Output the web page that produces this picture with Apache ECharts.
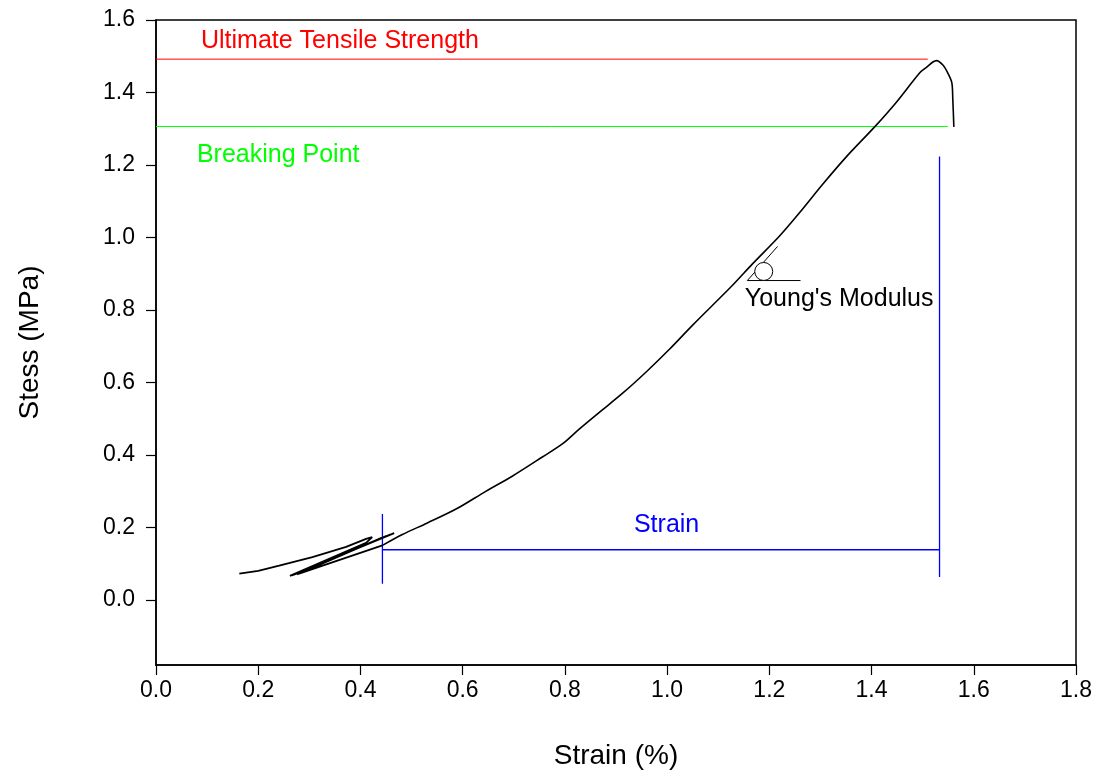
<!DOCTYPE html>
<html>
<head>
<meta charset="utf-8">
<script src="https://cdn.jsdelivr.net/npm/echarts@6/dist/echarts.min.js"></script>
<style>html,body{margin:0;padding:0;background:#fff}#chart{width:1110px;height:775px}</style>
</head>
<body>
<div id="chart"></div>
<script>
// Initial cyclic part of the stress-strain record (strain %, stress MPa)
const loopStrain = [0.163,0.200,0.241,0.306,0.372,0.411,0.423,0.411,0.262,0.466,0.266,0.458,0.270,0.450,0.276,0.440,0.280,0.443];
const loopStress = [0.072,0.080,0.094,0.118,0.146,0.168,0.173,0.157,0.066,0.184,0.067,0.180,0.069,0.176,0.070,0.170,0.072,0.150];
// Main loading curve up to break
const strain = [0.443,0.482,0.531,0.588,0.646,0.697,0.756,0.795,0.828,0.868,0.913,0.960,1.005,1.050,1.128,1.167,1.220,1.259,1.304,1.351,1.406,1.449,1.494,1.508,1.520,1.527,1.540,1.549,1.557,1.559,1.561];
const stress = [0.150,0.180,0.212,0.251,0.300,0.341,0.394,0.430,0.471,0.518,0.570,0.630,0.692,0.758,0.868,0.927,1.004,1.068,1.146,1.223,1.305,1.374,1.454,1.470,1.484,1.488,1.475,1.454,1.427,1.380,1.305];

const xTicks = [0.0,0.2,0.4,0.6,0.8,1.0,1.2,1.4,1.6,1.8];
const yTicks = [0.0,0.2,0.4,0.6,0.8,1.0,1.2,1.4,1.6];

// Reference levels
const utsStress = 1.492, utsEnd = 1.51;
const breakStress = 1.306, breakEnd = 1.549;
// Strain bracket (blue)
const bracketX = [0.443, 1.533];
const bracketY = 0.138;
const leftBarY = [0.044, 0.237];
const rightBarY = [0.063, 1.223];
// Young's modulus marker
const ymTangentX = [1.157, 1.216], ymTangentY = [0.881, 0.975];
const ymBaseX = [1.157, 1.261];
const ymCircle = [1.189, 0.906];

// Text annotations
const notes = [
  {text:'Ultimate Tensile Strength', x:0.088, y:1.542, color:'#ff0000', align:'left'},
  {text:'Breaking Point', x:0.080, y:1.228, color:'#00ff00', align:'left'},
  {text:'Strain', x:0.999, y:0.207, color:'#0000ff', align:'center'},
  {text:"Young's Modulus", x:1.152, y:0.829, color:'#000000', align:'left'}
];

const FONT = '"Liberation Sans", Arial, sans-serif';
function seg(pts, color, w) {
  return {type:'line', data:pts, symbol:'none', silent:true, z:3,
    lineStyle:{color:color, width:w||1}};
}

const series = [
  {type:'line', data: loopStrain.map((s,i)=>[s, loopStress[i]]), symbol:'none', z:4, silent:true,
   lineStyle:{color:'#000', width:1.8}},
  {type:'line', data: strain.map((s,i)=>[s, stress[i]]), symbol:'none', z:4, smooth:0.3, silent:true,
   lineStyle:{color:'#000', width:1.6}},
  seg([[0,utsStress],[utsEnd,utsStress]], '#ff0000'),
  seg([[0,breakStress],[breakEnd,breakStress]], '#00ff00'),
  seg([[bracketX[0],leftBarY[0]],[bracketX[0],leftBarY[1]]], '#0000ff', 1.3),
  seg([[bracketX[0],bracketY],[bracketX[1],bracketY]], '#0000ff', 1.3),
  seg([[bracketX[1],rightBarY[0]],[bracketX[1],rightBarY[1]]], '#0000ff', 1.3),
  seg([[ymTangentX[0],ymTangentY[0]],[ymTangentX[1],ymTangentY[1]]], '#000', 1),
  seg([[ymBaseX[0],ymTangentY[0]],[ymBaseX[1],ymTangentY[0]]], '#000', 1),
  {type:'scatter', data:[ymCircle], symbol:'circle', symbolSize:18, silent:true, z:5,
   itemStyle:{color:'#fff', borderColor:'#000', borderWidth:1, opacity:1}},
  {type:'scatter', symbolSize:0, silent:true, z:6, itemStyle:{opacity:1},
   data: notes.map(n=>({value:[n.x,n.y], label:{show:true, position:'inside', formatter:n.text,
     color:n.color, opacity:1, align:n.align, verticalAlign:'middle', fontSize:25, fontFamily:FONT}}))}
];

const chart = echarts.init(document.getElementById('chart'), null, {renderer:'canvas'});
chart.setOption({
  animation:false,
  backgroundColor:'#fff',
  grid:{left:156, right:34, top:20, bottom:109, show:true, borderColor:'#000', borderWidth:1.5, backgroundColor:'transparent'},
  xAxis:{type:'value', min:0, max:1.8, interval:0.2,
    name:'Strain (%)', nameLocation:'middle', nameGap:77,
    nameTextStyle:{fontSize:28, fontFamily:FONT, color:'#000'},
    axisLine:{show:true, onZero:false, lineStyle:{color:'#000', width:1.5}},
    axisTick:{show:true, length:10, lineStyle:{color:'#000', width:1.2}, customValues:xTicks},
    axisLabel:{fontSize:23, fontFamily:FONT, color:'#000', margin:14, customValues:xTicks, formatter:v=>v.toFixed(1)},
    splitLine:{show:false}},
  yAxis:{type:'value', min:-0.18, max:1.6,
    name:'Stess (MPa)', nameLocation:'middle', nameGap:112,
    nameTextStyle:{fontSize:28, fontFamily:FONT, color:'#000'},
    axisLine:{show:true, onZero:false, lineStyle:{color:'#000', width:1.5}},
    axisTick:{show:true, length:10, lineStyle:{color:'#000', width:1.2}, customValues:yTicks},
    axisLabel:{fontSize:23, fontFamily:FONT, color:'#000', margin:21, customValues:yTicks, formatter:v=>v.toFixed(1)},
    splitLine:{show:false}},
  series: series
});
</script>
</body>
</html>
